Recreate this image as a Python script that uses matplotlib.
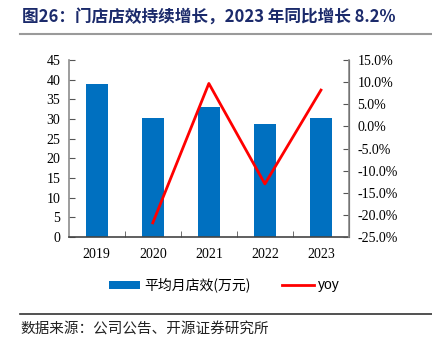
import matplotlib
matplotlib.use("Agg")
import matplotlib.pyplot as plt
from matplotlib.lines import Line2D
from matplotlib.patches import Patch
from matplotlib.ticker import FuncFormatter, MultipleLocator

years = ["2019", "2020", "2021", "2022", "2023"]
store_eff = [38.8, 30.3, 33.1, 28.8, 30.3]
yoy_years = ["2020", "2021", "2022", "2023"]
yoy = [-21.8, 9.7, -13.0, 8.2]

title = "图26：门店店效持续增长，2023 年同比增长 8.2%"
source = "数据来源：公司公告、开源证券研究所"
bar_label = "平均月店效(万元)"
line_label = "yoy"

cjk = ["Noto Sans CJK SC", "DejaVu Sans"]
serif = ["Liberation Serif", "DejaVu Serif"]

fig = plt.figure(figsize=(4.32, 3.51), dpi=100)
ax = fig.add_axes([68.7 / 432, 1 - 237 / 351, (349 - 68.7) / 432, (237 - 60) / 351])

x = list(range(len(years)))
ax.bar(x, store_eff, width=0.4, color="#0070C0", zorder=2)
ax.set_xlim(-0.5, len(years) - 0.5)
ax.set_ylim(0, 45)
ax.yaxis.set_major_locator(MultipleLocator(5))
ax.set_xticks(x)
ax.set_xticklabels(years)
ax.set_xticks([i + 0.5 for i in range(len(years) - 1)], minor=True)
ax.tick_params(axis="x", which="major", length=0, pad=8)
ax.tick_params(axis="x", which="minor", direction="in", length=4, color="#555555")
ax.tick_params(axis="y", direction="in", length=4, color="#555555", pad=6)
for lab in ax.get_xticklabels() + ax.get_yticklabels():
    lab.set_family(serif)
    lab.set_fontsize(10)
ax.spines["top"].set_visible(False)
ax.spines["left"].set_color("#8c8c8c")
ax.spines["bottom"].set_color("#444444")
ax.spines["left"].set_linewidth(1.2)
ax.spines["bottom"].set_linewidth(1.2)

ax2 = ax.twinx()
xi = [years.index(y) for y in yoy_years]
ax2.plot(xi, yoy, color="#FF0000", linewidth=2.0, zorder=3)
ax2.set_ylim(-25, 15)
ax2.yaxis.set_major_locator(MultipleLocator(5))
ax2.yaxis.set_major_formatter(FuncFormatter(lambda v, p: f"{v:.1f}%"))
ax2.tick_params(axis="y", direction="in", length=4, color="#555555", pad=6)
for lab in ax2.get_yticklabels():
    lab.set_family(serif)
    lab.set_fontsize(10)
ax2.spines["top"].set_visible(False)
ax2.spines["left"].set_visible(False)
ax2.spines["bottom"].set_visible(False)
ax2.spines["right"].set_color("#8c8c8c")
ax2.spines["right"].set_linewidth(1.2)

fig.text(22 / 432, 1 - 17 / 351, title, family=cjk, fontsize=12, fontweight="bold",
         color="#1B2A6B", va="center", ha="left")
fig.add_artist(Line2D([20 / 432, 1.0], [1 - 34 / 351, 1 - 34 / 351], color="#9a9a9a", linewidth=1.5))

handles = [Patch(facecolor="#0070C0", edgecolor="none"),
           Line2D([0], [0], color="#FF0000", linewidth=2.0)]
leg = fig.legend(handles, [bar_label, line_label], loc="center", ncol=2,
                 bbox_to_anchor=(224 / 432, 1 - 285 / 351), frameon=False,
                 prop={"family": cjk, "size": 10}, handlelength=2.3, handleheight=0.5,
                 handletextpad=0.3, columnspacing=2.2)
leg.get_texts()[1].set_family(["Liberation Sans", "DejaVu Sans"])

fig.add_artist(Line2D([20 / 432, 1.0], [1 - 314 / 351, 1 - 314 / 351], color="#333333", linewidth=1.2))
fig.text(20 / 432, 1 - 330 / 351, source, family=cjk, fontsize=10.5, color="#222222",
         va="center", ha="left")

fig.savefig("out.png", dpi=100)
